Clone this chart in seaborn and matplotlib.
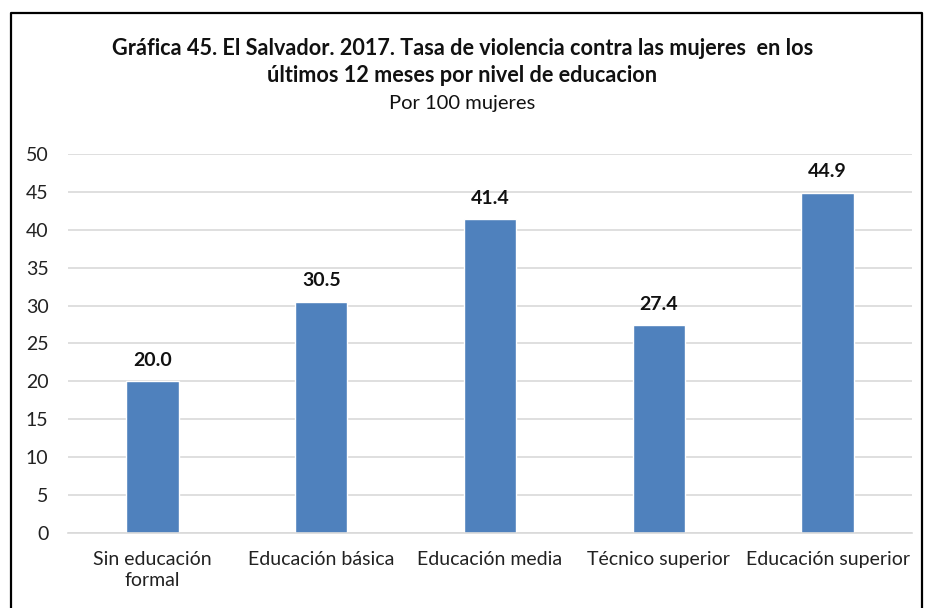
import matplotlib
matplotlib.use("Agg")
import matplotlib.pyplot as plt
import seaborn as sns
import pandas as pd
from matplotlib.lines import Line2D

# data
categories = ["Sin educación\nformal", "Educación básica", "Educación media",
              "Técnico superior", "Educación superior"]
values = [20.0, 30.5, 41.4, 27.4, 44.9]
yticks = [0, 5, 10, 15, 20, 25, 30, 35, 40, 45, 50]

df = pd.DataFrame({"nivel": categories, "tasa": values})

sns.set_theme(style="white")
plt.rcParams['font.family'] = ['Lato', 'DejaVu Sans']

fig = plt.figure(figsize=(9.25, 6.08), dpi=100)
ax = fig.add_axes([0.0735, 0.1234, 0.9125, 0.6233])

sns.barplot(data=df, x="nivel", y="tasa", color="#4F81BD", width=0.31,
            saturation=1, ax=ax)

ax.set_ylim(0, 50)
ax.set_yticks(yticks)
ax.set_yticklabels([str(t) for t in yticks], fontsize=14, color="#222222")
ax.tick_params(axis="x", labelsize=14, colors="#222222", length=0, pad=13)
ax.tick_params(axis="y", length=0, pad=14)
for lbl in ax.get_xticklabels():
    lbl.set_linespacing(1.3)
ax.set_xlabel("")
ax.set_ylabel("")
ax.yaxis.grid(True, color="#D9D9D9", lw=1.2)
ax.set_axisbelow(True)
for s in ["top", "right", "left"]:
    ax.spines[s].set_visible(False)
ax.spines["bottom"].set_color("#D9D9D9")
ax.spines["bottom"].set_linewidth(1.2)

for i, v in enumerate(values):
    ax.annotate(f"{v:.1f}", (i, v), xytext=(0, 9), textcoords="offset points",
                ha="center", va="bottom", fontsize=14, fontweight="bold",
                color="#111111")

fig.text(0.5, 0.921, "Gráfica 45. El Salvador. 2017. Tasa de violencia contra las mujeres  en los",
         ha="center", va="center", fontsize=15.6, fontweight="bold", color="#111111")
fig.text(0.5, 0.875, "últimos 12 meses por nivel de educacion",
         ha="center", va="center", fontsize=15.6, fontweight="bold", color="#111111")
fig.text(0.5, 0.829, "Por 100 mujeres",
         ha="center", va="center", fontsize=14.5, color="#111111")

# outer frame, clipped at the bottom like the reference
x0, x1 = 10.5 / 925, 921.5 / 925
y0 = 1 - 12.5 / 608
frame = Line2D([x0, x0, x1, x1], [-0.1, y0, y0, -0.1], transform=fig.transFigure,
               color="black", lw=1.6)
fig.lines.append(frame)

fig.savefig("out.png", dpi=100)
